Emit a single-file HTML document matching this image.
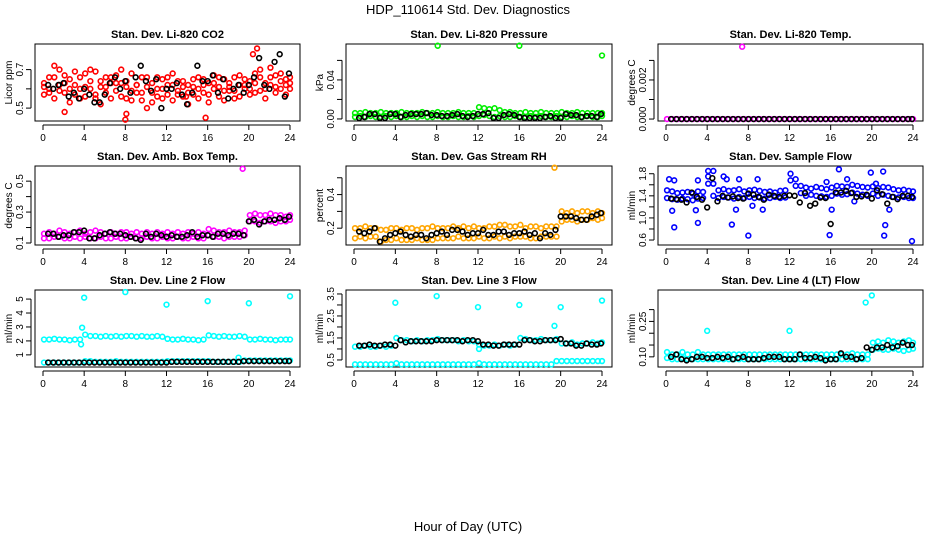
<!DOCTYPE html>
<html><head><meta charset="utf-8"><style>
body{margin:0;background:#fff;}
svg{display:block;font-family:"Liberation Sans",sans-serif;}
</style></head><body>
<svg id="chart" width="936" height="540" viewBox="0 0 936 540">
<rect width="936" height="540" fill="#fff"/>
<text x="468" y="14" text-anchor="middle" font-size="13">HDP_110614  Std. Dev. Diagnostics</text>
<text x="468" y="531" text-anchor="middle" font-size="13">Hour of Day (UTC)</text>
</svg>
<script>
// ---- data ----
const xTicks=[0,4,8,12,16,20,24];
// CO2
const co2A=[0.63,0.60,0.66,0.70,0.58,0.65,0.62,0.55,0.68,0.60,0.57,0.64,0.61,0.66,0.59,0.63,0.55,0.68,0.62,0.58,0.66,0.53,0.60,0.65,0.57,0.62,0.59,0.64,0.52,0.61,0.66,0.58,0.63,0.60,0.56,0.65,0.61,0.59,0.67,0.62,0.64,0.58,0.70,0.63,0.66,0.61,0.68,0.62,0.60];
const co2B=[0.57,0.66,0.55,0.62,0.67,0.53,0.69,0.60,0.56,0.64,0.69,0.52,0.66,0.55,0.63,0.70,0.61,0.54,0.58,0.66,0.50,0.63,0.56,0.60,0.66,0.54,0.64,0.56,0.62,0.57,0.55,0.65,0.53,0.67,0.61,0.54,0.59,0.66,0.56,0.60,0.57,0.68,0.59,0.55,0.71,0.58,0.64,0.57,0.66];
const co2C=[0.61,0.58,0.72,0.59,0.63,0.60,0.57,0.66,0.61,0.70,0.55,0.61,0.58,0.63,0.67,0.56,0.64,0.59,0.62,0.54,0.61,0.58,0.66,0.55,0.62,0.68,0.57,0.61,0.58,0.65,0.60,0.62,0.57,0.63,0.66,0.59,0.63,0.55,0.62,0.65,0.60,0.63,0.66,0.60,0.62,0.67,0.60,0.65,0.63];
const co2Out=[[8,0.44],[8.1,0.47],[15.8,0.45],[20.8,0.81],[20.4,0.78],[2.1,0.48],[13.9,0.56]];
const co2K=[0.62,0.60,0.62,0.63,0.56,0.58,0.55,0.60,0.57,0.53,0.53,0.57,0.63,0.66,0.60,0.64,0.58,0.66,0.72,0.64,0.59,0.65,0.50,0.60,0.60,0.63,0.57,0.52,0.58,0.72,0.64,0.64,0.67,0.58,0.65,0.55,0.60,0.62,0.58,0.62,0.66,0.76,0.62,0.60,0.74,0.78,0.56,0.68];
// Pressure
const prA=[0.006,0.006,0.007,0.006,0.006,0.007,0.006,0.006,0.006,0.007,0.006,0.006,0.006,0.007,0.006,0.006,0.007,0.006,0.006,0.006,0.007,0.006,0.006,0.006,0.012,0.011,0.010,0.011,0.009,0.007,0.007,0.006,0.006,0.007,0.006,0.006,0.007,0.006,0.006,0.006,0.007,0.006,0.006,0.007,0.006,0.006,0.006,0.006,0.006];
const prB=[0.002,0.003,0.002,0.003,0.002,0.002,0.003,0.002,0.003,0.002,0.002,0.003,0.002,0.003,0.002,0.002,0.003,0.002,0.002,0.003,0.002,0.002,0.003,0.002,0.003,0.004,0.003,0.002,0.003,0.002,0.002,0.003,0.002,0.002,0.003,0.002,0.003,0.002,0.002,0.003,0.002,0.002,0.003,0.002,0.002,0.003,0.002,0.002,0.003];
const prOut=[[8.1,0.075],[16,0.075],[24,0.065]];
const prK=[0.001,0.002,0.005,0.005,0.001,0.001,0.005,0.005,0.002,0.004,0.005,0.005,0.005,0.006,0.004,0.004,0.003,0.003,0.004,0.005,0.003,0.002,0.003,0.005,0.005,0.006,0.001,0.001,0.004,0.005,0.004,0.002,0.001,0.001,0.001,0.001,0.002,0.003,0.001,0.001,0.005,0.004,0.004,0.002,0.003,0.003,0.002,0.005];
// Temp
const tpA=[0,0,0,0,0,0,0,0,0,0,0,0,0,0,0,0,0,0,0,0,0,0,0,0,0,0,0,0,0,0,0,0,0,0,0,0,0,0,0,0,0,0,0,0,0,0,0,0,0];
const tpOut=[[7.4,0.0037]];
const tpK=[0,0,0,0,0,0,0,0,0,0,0,0,0,0,0,0,0,0,0,0,0,0,0,0,0,0,0,0,0,0,0,0,0,0,0,0,0,0,0,0,0,0,0,0,0,0,0,0];
// Amb box temp
const abA=[0.16,0.17,0.16,0.18,0.17,0.16,0.17,0.18,0.16,0.17,0.18,0.17,0.16,0.17,0.16,0.17,0.17,0.16,0.17,0.16,0.17,0.16,0.17,0.16,0.17,0.16,0.17,0.16,0.17,0.16,0.17,0.16,0.19,0.18,0.17,0.17,0.18,0.17,0.17,0.18,0.28,0.29,0.28,0.28,0.29,0.28,0.28,0.27,0.28];
const abB=[0.13,0.13,0.14,0.14,0.13,0.13,0.14,0.13,0.14,0.13,0.13,0.14,0.13,0.13,0.14,0.13,0.13,0.14,0.13,0.13,0.14,0.13,0.13,0.14,0.13,0.13,0.14,0.13,0.13,0.14,0.13,0.13,0.15,0.14,0.14,0.13,0.14,0.14,0.14,0.15,0.24,0.24,0.23,0.24,0.24,0.23,0.24,0.24,0.25];
const abOut=[[19.4,0.58]];
const abK=[0.16,0.16,0.14,0.15,0.15,0.17,0.17,0.18,0.13,0.13,0.15,0.16,0.17,0.16,0.16,0.15,0.14,0.13,0.12,0.16,0.14,0.16,0.15,0.14,0.15,0.14,0.14,0.15,0.17,0.14,0.15,0.15,0.14,0.16,0.16,0.15,0.16,0.16,0.15,0.24,0.25,0.22,0.24,0.25,0.25,0.26,0.25,0.27];
// Gas stream RH
const rhA=[0.20,0.20,0.21,0.20,0.20,0.19,0.19,0.20,0.20,0.19,0.20,0.20,0.19,0.20,0.20,0.21,0.20,0.20,0.20,0.21,0.20,0.21,0.20,0.21,0.20,0.20,0.21,0.21,0.22,0.22,0.21,0.21,0.22,0.20,0.21,0.21,0.20,0.21,0.21,0.21,0.30,0.29,0.30,0.29,0.30,0.30,0.29,0.30,0.29];
const rhB=[0.14,0.15,0.14,0.15,0.15,0.12,0.13,0.13,0.14,0.13,0.13,0.13,0.14,0.13,0.13,0.13,0.14,0.14,0.14,0.14,0.15,0.14,0.14,0.14,0.15,0.14,0.14,0.15,0.14,0.15,0.14,0.15,0.15,0.15,0.14,0.14,0.15,0.15,0.15,0.15,0.24,0.25,0.25,0.24,0.25,0.25,0.26,0.25,0.26];
const rhOut=[[19.4,0.56]];
const rhK=[0.18,0.17,0.18,0.20,0.12,0.14,0.16,0.17,0.18,0.16,0.15,0.16,0.16,0.14,0.16,0.17,0.18,0.16,0.19,0.19,0.18,0.16,0.17,0.17,0.19,0.16,0.16,0.18,0.18,0.16,0.17,0.17,0.18,0.16,0.17,0.14,0.17,0.16,0.19,0.27,0.27,0.27,0.26,0.25,0.25,0.27,0.28,0.29];
// Sample flow
const sfA=[1.50,1.48,1.45,1.46,1.47,1.44,1.48,1.47,1.75,1.62,1.50,1.52,1.49,1.50,1.52,1.48,1.50,1.51,1.49,1.47,1.48,1.46,1.49,1.50,1.80,1.70,1.58,1.55,1.53,1.56,1.54,1.52,1.55,1.58,1.57,1.56,1.60,1.58,1.56,1.55,1.57,1.54,1.56,1.55,1.52,1.50,1.51,1.49,1.48];
const sfB=[1.36,1.34,1.33,1.35,1.34,1.32,1.35,1.36,1.62,1.40,1.36,1.38,1.37,1.35,1.38,1.36,1.38,1.36,1.37,1.35,1.36,1.38,1.36,1.37,1.68,1.58,1.45,1.40,1.42,1.40,1.39,1.38,1.40,1.44,1.42,1.43,1.46,1.44,1.42,1.40,1.44,1.40,1.42,1.40,1.38,1.37,1.38,1.36,1.36];
const sfOut=[[0.3,1.7],[0.8,1.68],[0.6,1.13],[0.8,0.83],[2.9,1.14],[3.1,0.91],[3.1,1.68],[4.1,1.85],[4.6,1.85],[5.6,1.75],[5.9,1.70],[6.4,0.88],[6.8,1.15],[7.1,1.70],[8.0,0.68],[8.4,1.22],[8.9,1.70],[9.4,1.15],[15.6,1.65],[15.9,0.69],[16.1,1.15],[16.8,1.88],[17.6,1.70],[18.3,1.30],[19.9,1.82],[21.1,1.84],[21.3,0.87],[21.2,0.68],[21.7,1.15],[23.9,0.58],[20.4,1.62]];
const sfK=[1.35,1.34,1.33,1.28,1.46,1.38,1.33,1.19,1.72,1.30,1.40,1.37,1.39,1.36,1.35,1.44,1.42,1.38,1.33,1.42,1.40,1.38,1.40,1.41,1.40,1.28,1.45,1.22,1.26,1.37,1.36,0.89,1.46,1.46,1.49,1.45,1.38,1.39,1.42,1.35,1.50,1.43,1.26,1.38,1.34,1.40,1.40,1.38];
// Line 2 flow
const l2A=[2.1,2.1,2.15,2.1,2.1,2.05,2.1,2.1,2.45,2.35,2.35,2.3,2.35,2.3,2.35,2.3,2.35,2.35,2.3,2.35,2.3,2.3,2.35,2.3,2.15,2.1,2.1,2.15,2.1,2.1,2.05,2.1,2.4,2.35,2.3,2.35,2.3,2.3,2.35,2.3,2.1,2.1,2.15,2.1,2.1,2.05,2.1,2.1,2.1];
const l2B=[0.45,0.45,0.45,0.45,0.45,0.45,0.45,0.45,0.55,0.55,0.5,0.5,0.5,0.5,0.55,0.5,0.5,0.5,0.5,0.5,0.5,0.5,0.5,0.5,0.55,0.55,0.55,0.55,0.55,0.55,0.55,0.55,0.55,0.5,0.5,0.5,0.5,0.5,0.5,0.6,0.6,0.6,0.6,0.6,0.6,0.6,0.6,0.6,0.6];
const l2Out=[[4,5.1],[8,5.5],[12,4.6],[16,4.85],[20,4.7],[24,5.2],[3.8,2.95],[3.7,1.75],[19.0,0.8]];
const l2K=[0.45,0.45,0.45,0.45,0.45,0.45,0.45,0.45,0.45,0.45,0.45,0.45,0.45,0.45,0.45,0.45,0.45,0.45,0.45,0.45,0.45,0.45,0.45,0.45,0.5,0.5,0.5,0.5,0.5,0.5,0.5,0.5,0.5,0.5,0.5,0.5,0.5,0.5,0.55,0.55,0.55,0.55,0.55,0.55,0.55,0.55,0.55,0.55];
// Line 3 flow
const l3A=[1.1,1.1,1.15,1.1,1.1,1.15,1.1,1.15,1.5,1.4,1.4,1.35,1.4,1.35,1.4,1.4,1.45,1.4,1.4,1.4,1.35,1.4,1.35,1.35,1.2,1.15,1.15,1.2,1.15,1.2,1.15,1.2,1.5,1.45,1.4,1.4,1.45,1.4,1.4,1.45,1.25,1.25,1.3,1.2,1.25,1.25,1.3,1.25,1.3];
const l3B=[0.3,0.3,0.3,0.3,0.3,0.3,0.3,0.3,0.35,0.3,0.3,0.3,0.3,0.3,0.3,0.3,0.3,0.3,0.3,0.3,0.3,0.3,0.3,0.3,0.35,0.3,0.3,0.3,0.3,0.3,0.3,0.3,0.3,0.3,0.3,0.3,0.3,0.3,0.3,0.45,0.45,0.45,0.45,0.45,0.45,0.45,0.45,0.45,0.45];
const l3Out=[[4,3.1],[8,3.4],[12,2.9],[16,3.0],[19.4,2.05],[20,2.9],[24,3.2],[12.1,1.0]];
const l3K=[1.15,1.15,1.2,1.15,1.15,1.2,1.2,1.15,1.4,1.3,1.35,1.35,1.35,1.35,1.35,1.4,1.4,1.4,1.4,1.4,1.35,1.4,1.4,1.35,1.2,1.2,1.15,1.15,1.2,1.2,1.2,1.2,1.4,1.4,1.35,1.35,1.4,1.4,1.4,1.45,1.25,1.25,1.15,1.15,1.25,1.2,1.2,1.25];
// Line 4 flow
const l4A=[0.12,0.11,0.11,0.12,0.11,0.11,0.12,0.11,0.11,0.11,0.11,0.11,0.11,0.11,0.11,0.11,0.11,0.11,0.11,0.11,0.11,0.11,0.11,0.11,0.11,0.11,0.11,0.11,0.11,0.11,0.11,0.11,0.11,0.11,0.11,0.11,0.115,0.11,0.11,0.11,0.16,0.165,0.16,0.17,0.165,0.16,0.165,0.17,0.16];
const l4B=[0.095,0.09,0.09,0.095,0.09,0.09,0.09,0.09,0.09,0.09,0.09,0.09,0.09,0.09,0.09,0.09,0.09,0.09,0.09,0.09,0.09,0.09,0.09,0.09,0.09,0.09,0.09,0.09,0.09,0.09,0.09,0.09,0.09,0.09,0.09,0.09,0.09,0.09,0.09,0.09,0.13,0.135,0.13,0.13,0.135,0.13,0.125,0.13,0.135];
const l4Out=[[4,0.21],[12,0.21],[19.4,0.33],[20,0.36]];
const l4K=[0.10,0.11,0.09,0.085,0.09,0.10,0.10,0.095,0.095,0.10,0.095,0.10,0.09,0.095,0.10,0.09,0.09,0.09,0.095,0.10,0.10,0.10,0.09,0.09,0.09,0.11,0.095,0.095,0.10,0.095,0.085,0.09,0.09,0.115,0.10,0.10,0.09,0.095,0.14,0.13,0.14,0.14,0.15,0.14,0.145,0.16,0.15,0.15];

// ---- layout ----
const cols=[[35,300],[346,612],[658,923]];
const rows=[[44,121],[166,245],[290,367]];
const panels=[
 {title:"Stan. Dev. Li-820 CO2",ylab:"Licor ppm",ymin:0.433,ymax:0.833,ticks:[0.5,0.6,0.7],labels:[0.5,0.7],fmt:1,color:"#ff0000",series:[co2A,co2B,co2C],out:co2Out,k:co2K},
 {title:"Stan. Dev. Li-820 Pressure",ylab:"kPa",ymin:-0.0021,ymax:0.0768,ticks:[0,0.02,0.04,0.06],labels:[0,0.04],fmt:2,color:"#00ee00",series:[prA,prB],out:prOut,k:prK},
 {title:"Stan. Dev. Li-820 Temp.",ylab:"degrees C",ymin:-0.0001,ymax:0.00384,ticks:[0,0.001,0.002,0.003],labels:[0,0.002],fmt:3,color:"#ff00ff",series:[tpA],out:tpOut,k:tpK},
 {title:"Stan. Dev. Amb. Box Temp.",ylab:"degrees C",ymin:0.087,ymax:0.598,ticks:[0.1,0.2,0.3,0.4,0.5],labels:[0.1,0.3,0.5],fmt:1,color:"#ff00ff",series:[abA,abB],out:abOut,k:abK},
 {title:"Stan. Dev. Gas Stream RH",ylab:"percent",ymin:0.1,ymax:0.57,ticks:[0.2,0.3,0.4,0.5],labels:[0.2,0.4],fmt:1,color:"#ffa500",series:[rhA,rhB],out:rhOut,k:rhK},
 {title:"Stan. Dev. Sample Flow",ylab:"ml/min",ymin:0.51,ymax:1.94,ticks:[0.6,0.8,1.0,1.2,1.4,1.6,1.8],labels:[0.6,1.0,1.4,1.8],fmt:1,color:"#0000ff",series:[sfA,sfB],out:sfOut,k:sfK},
 {title:"Stan. Dev. Line 2 Flow",ylab:"ml/min",ymin:0.13,ymax:5.65,ticks:[1,2,3,4,5],labels:[1,2,3,4,5],fmt:0,color:"#00ffff",series:[l2A,l2B],out:l2Out,k:l2K},
 {title:"Stan. Dev. Line 3 Flow",ylab:"ml/min",ymin:0.18,ymax:3.68,ticks:[0.5,1,1.5,2,2.5,3,3.5],labels:[0.5,1.5,2.5,3.5],fmt:1,color:"#00ffff",series:[l3A,l3B],out:l3Out,k:l3K},
 {title:"Stan. Dev. Line 4 (LT) Flow",ylab:"ml/min",ymin:0.057,ymax:0.383,ticks:[0.1,0.15,0.2,0.25,0.3],labels:[0.1,0.25],fmt:2,color:"#00ffff",series:[l4A,l4B],out:l4Out,k:l4K}
];
const NS="http://www.w3.org/2000/svg";
const svg=document.getElementById('chart');
function mk(tag,attrs,parent){const e=document.createElementNS(NS,tag);for(const a in attrs)e.setAttribute(a,attrs[a]);parent.appendChild(e);return e;}
panels.forEach((p,i)=>{
  const [L,R]=cols[i%3],[T,B]=rows[Math.floor(i/3)];
  const g=mk('g',{},svg);
  
  
  const xs=t=>L+8+(R-10-L-8)*t/24;
  const ys=v=>B-(v-p.ymin)/(p.ymax-p.ymin)*(B-T);
  const title=mk('text',{x:(L+R)/2,y:T-6,'text-anchor':'middle','font-size':11,'font-weight':'bold'},g);
  title.textContent=p.title;
  
  
  const box=mk('rect',{x:L,y:T,width:R-L,height:B-T,fill:'none',stroke:'#000','stroke-width':1},g);
  
  
  // x axis
  const xa=mk('g',{},g);
  
  
  mk('line',{x1:xs(0),x2:xs(24),y1:B+4,y2:B+4,stroke:'#000'},xa);
  xTicks.forEach(t=>{
    mk('line',{x1:xs(t),x2:xs(t),y1:B+4,y2:B+9,stroke:'#000'},xa);
    const tx=mk('text',{x:xs(t),y:B+20,'text-anchor':'middle','font-size':10},xa);
    tx.textContent=t;
    
    
  });
  // y axis
  const ya=mk('g',{},g);
  
  
  mk('line',{x1:L-4,x2:L-4,y1:ys(p.ticks[0]),y2:ys(p.ticks[p.ticks.length-1]),stroke:'#000'},ya);
  p.ticks.forEach(v=>{mk('line',{x1:L-9,x2:L-4,y1:ys(v),y2:ys(v),stroke:'#000'},ya);});
  p.labels.forEach(v=>{
    const tx=mk('text',{x:0,y:0,'text-anchor':'middle','font-size':10,transform:`translate(${L-12},${ys(v)}) rotate(-90)`},ya);
    tx.textContent=v.toFixed(p.fmt);
    
    
  });
  const yl=mk('text',{x:0,y:0,'text-anchor':'middle','font-size':10,transform:`translate(${L-23},${(T+B)/2}) rotate(-90)`},g);
  yl.textContent=p.ylab;
  
  
  // points
  const pg=mk('g',{fill:'none',stroke:p.color,'stroke-width':1.6},g);
  
  
  p.series.forEach(arr=>arr.forEach((v,j)=>{
    const t=Math.min(24,0.1+j*0.5);
    const c=mk('circle',{cx:xs(t),cy:ys(v),r:2.4},pg);
    
    
  }));
  p.out.forEach(([t,v])=>{
    const c=mk('circle',{cx:xs(t),cy:ys(v),r:2.4},pg);
    
    
  });
  const kg=mk('g',{fill:'none',stroke:'#000','stroke-width':1.6},g);
  
  
  p.k.forEach((v,j)=>{
    const t=0.5+j*0.5;
    const c=mk('circle',{cx:xs(Math.min(t,23.9)),cy:ys(v),r:2.4},kg);
    
    
  });
});
</script>
</body></html>
